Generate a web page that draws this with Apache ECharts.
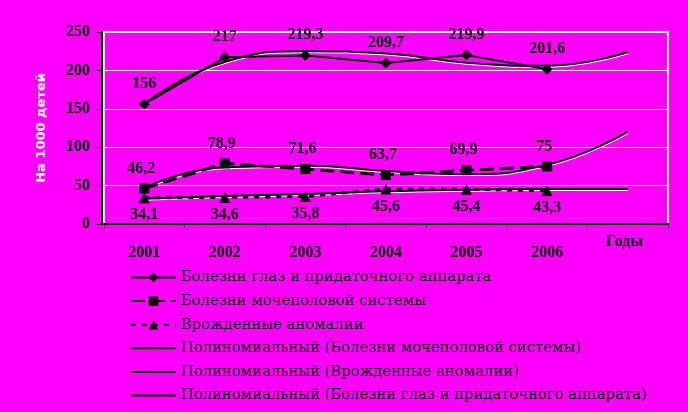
<!DOCTYPE html>
<html><head><meta charset="utf-8">
<script src="https://cdn.jsdelivr.net/npm/echarts@6/dist/echarts.min.js"></script>
<style>html,body{margin:0;padding:0;background:#ff00ff;}#c{width:688px;height:412px;}</style>
</head><body><div id="c"></div>
<script>
var categories = ['2001','2002','2003','2004','2005','2006',''];
var eyeValues = [156, 217, 219.3, 209.7, 219.9, 201.6];
var genValues = [46.2, 78.9, 71.6, 63.7, 69.9, 75];
var conValues = [34.1, 34.6, 35.8, 45.6, 45.4, 43.3];
var trendGen = [47, 74, 76, 69, 65, 77, 120];
var trendCon = [33, 36.5, 39, 42.5, 44.5, 45.5, 45.5];
var trendEye = [156, 211, 225, 222, 210, 206, 224];
var names = ['Болезни глаз и придаточного аппарата','Болезни мочеполовой системы','Врожденные аномалии',
 'Полиномиальный (Болезни мочеполовой системы)','Полиномиальный (Врожденные аномалии)','Полиномиальный (Болезни глаз и придаточного аппарата)'];
var yTicks = {min:0, max:250, interval:50};

function fmt(p){ return String(p.value).replace('.', ','); }
var lblBase = {show:true, formatter:fmt, color:'#000', fontFamily:'Liberation Serif', fontWeight:'bold', fontSize:16,
  textShadowColor:'#fff', textShadowOffsetX:1, textShadowOffsetY:1, textShadowBlur:0};
var trendLine = {color:'#000', width:2, shadowColor:'#fff', shadowOffsetY:1, shadowBlur:0};
var lineIcon = 'path://M0,0L45,0L45,2L0,2Z';
var legendData = names.map(function(n, i){
  return i < 3 ? {name:n} : {name:n, icon:lineIcon, itemStyle:{color:'#000'}};
});

var chart = echarts.init(document.getElementById('c'), null, {renderer:'canvas'});
chart.setOption({
  backgroundColor:'#ff00ff',
  animation:false,
  grid:{left:104, right:20, top:32, bottom:188, show:true, borderColor:'#fff', borderWidth:2, backgroundColor:'transparent'},
  xAxis:{type:'category', data:categories, boundaryGap:true, offset:2,
    axisLine:{lineStyle:{color:'#000', width:2}},
    axisTick:{show:true, length:5, interval:0, lineStyle:{color:'#000', width:1}},
    axisLabel:{margin:19, color:'#000', fontFamily:'Liberation Serif', fontWeight:'bold', fontSize:16, interval:0,
      textShadowColor:'#fff', textShadowOffsetX:1, textShadowOffsetY:1, textShadowBlur:0},
    splitLine:{show:false}},
  yAxis:{type:'value', min:yTicks.min, max:yTicks.max, interval:yTicks.interval, offset:2,
    name:'На 1000 детей', nameLocation:'middle', nameRotate:90, nameGap:54,
    nameTextStyle:{color:'#fff', fontFamily:'DejaVu Sans', fontWeight:'bold', fontSize:13},
    axisLine:{show:true, lineStyle:{color:'#000', width:2}},
    axisTick:{show:true, length:5, lineStyle:{color:'#000'}},
    axisLabel:{margin:12, color:'#000', fontFamily:'Liberation Serif', fontWeight:'bold', fontSize:16,
      textShadowColor:'#fff', textShadowOffsetX:1, textShadowOffsetY:1, textShadowBlur:0},
    splitLine:{lineStyle:{color:'#fff', width:1}}},
  legend:{orient:'vertical', left:130, top:270, padding:0, itemWidth:45, itemHeight:12, itemGap:8.6, height:142,
    data:legendData,
    textStyle:{color:'#000', fontFamily:'DejaVu Serif', fontSize:14.8}},
  graphic:[{type:'text', left:606, top:234, style:{text:'Годы', fill:'#000', font:'bold 16px "Liberation Serif"',
    shadowColor:'#fff', shadowOffsetX:1, shadowOffsetY:1}}],
  series:[
    {name:names[0], type:'line', data:eyeValues, symbol:'diamond', symbolSize:11, z:5,
      itemStyle:{color:'#000'}, lineStyle:{color:'#000', width:2},
      label:Object.assign({}, lblBase, {position:'top', distance:7})},
    {name:names[1], type:'line', data:genValues, symbol:'rect', symbolSize:10, z:5,
      itemStyle:{color:'#000'}, lineStyle:{color:'#000', width:3, type:[14,6]},
      label:Object.assign({}, lblBase, {position:'top', distance:7, offset:[-3,0]})},
    {name:names[2], type:'line', data:conValues, symbol:'triangle', symbolSize:11, z:5,
      itemStyle:{color:'#000'}, lineStyle:{color:'#000', width:3, type:[5,6]},
      label:Object.assign({}, lblBase, {position:'bottom', distance:4})},
    {name:names[3], type:'line', data:trendGen, smooth:0.5, showSymbol:false, silent:true,
      lineStyle:trendLine, itemStyle:{color:'#000'}},
    {name:names[4], type:'line', data:trendCon, smooth:0.5, showSymbol:false, silent:true,
      lineStyle:trendLine, itemStyle:{color:'#000'}},
    {name:names[5], type:'line', data:trendEye, smooth:0.5, showSymbol:false, silent:true,
      lineStyle:trendLine, itemStyle:{color:'#000'}}
  ]
});
</script></body></html>
